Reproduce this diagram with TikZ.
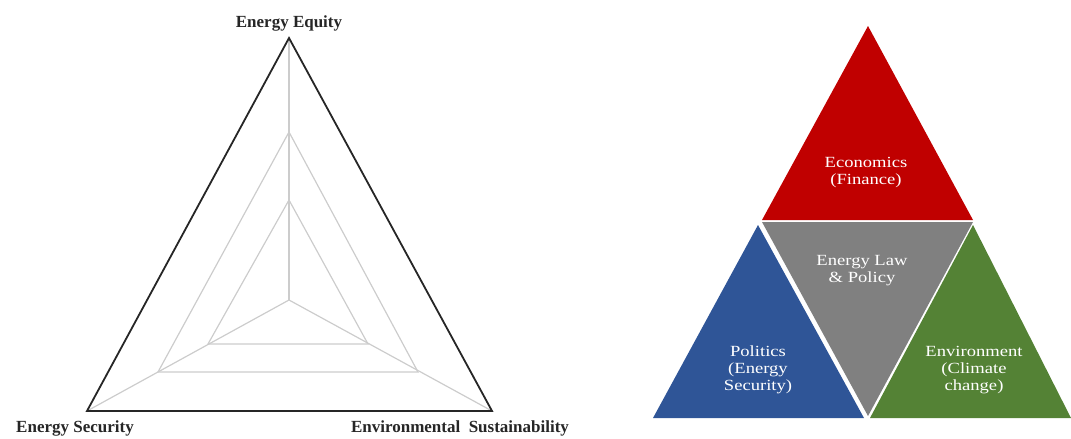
\documentclass[tikz,border=0pt]{standalone}
\usepackage{fontspec}
\setmainfont{Liberation Serif}
\newfontfamily\wideserif[FakeStretch=1.2]{Liberation Serif}
\usepackage{tikz}

\definecolor{econred}{HTML}{C00000}
\definecolor{lawgray}{HTML}{808080}
\definecolor{polblue}{HTML}{2F5597}
\definecolor{envgreen}{HTML}{548235}

\begin{document}
\begin{tikzpicture}
[x=1pt,y=-1pt,%%%%%%%%%%%%%%%%%%%%%%%%%%%%%%
axislabel/.style={font=\fontsize{17}{20}\selectfont\bfseries, text=black!85},
grid/.style={draw=black!20, line width=1.2pt},
outer/.style={draw=black!85, line width=1.8pt, line join=miter},
parttext/.style={text=white, font=\wideserif\fontsize{15.5}{17}\selectfont, align=center},
]%%%%%%%%%%%%%%%%%%%%%%%%%%%%%%
\useasboundingbox (0,0) rectangle (1071,439);

% left: triangle of the three aims
\coordinate (top) at (289,38);
\coordinate (sec) at (87,411);
\coordinate (env) at (492,411);
\coordinate (mid) at (289,300);

\draw[grid] (289,132) -- (158,372) -- (418,372) -- cycle;
\draw[grid] (289,200) -- (208,344) -- (368,344) -- cycle;
\foreach \v in {top,sec,env}
\draw[grid] (mid) -- (\v);
\draw[outer] (top) -- (sec) -- (env) -- cycle;

\node[axislabel] (equity) at (289,23){Energy Equity};
\node[axislabel] (security) at (75,428){Energy Security};
\node[axislabel] (sustain) at (460,428){Environmental\ \ Sustainability};

% right: the four parts
\fill[econred] (868,26) -- (762,220) -- (973,220) -- cycle;
\fill[lawgray] (762,222) -- (973,222) -- (868,416) -- cycle;
\fill[polblue] (758,225) -- (653,418) -- (864,418) -- cycle;
\fill[envgreen] (973,225) -- (870,418) -- (1071,418) -- cycle;

\node[parttext] (econ) at (866,173){Economics\\(Finance)};
\node[parttext] (law) at (862,271){Energy Law\\\& Policy};
\node[parttext] (pol) at (758,370){Politics\\(Energy\\Security)};
\node[parttext] (envt) at (974,370){Environment\\(Climate\\change)};
\end{tikzpicture}
\end{document}
